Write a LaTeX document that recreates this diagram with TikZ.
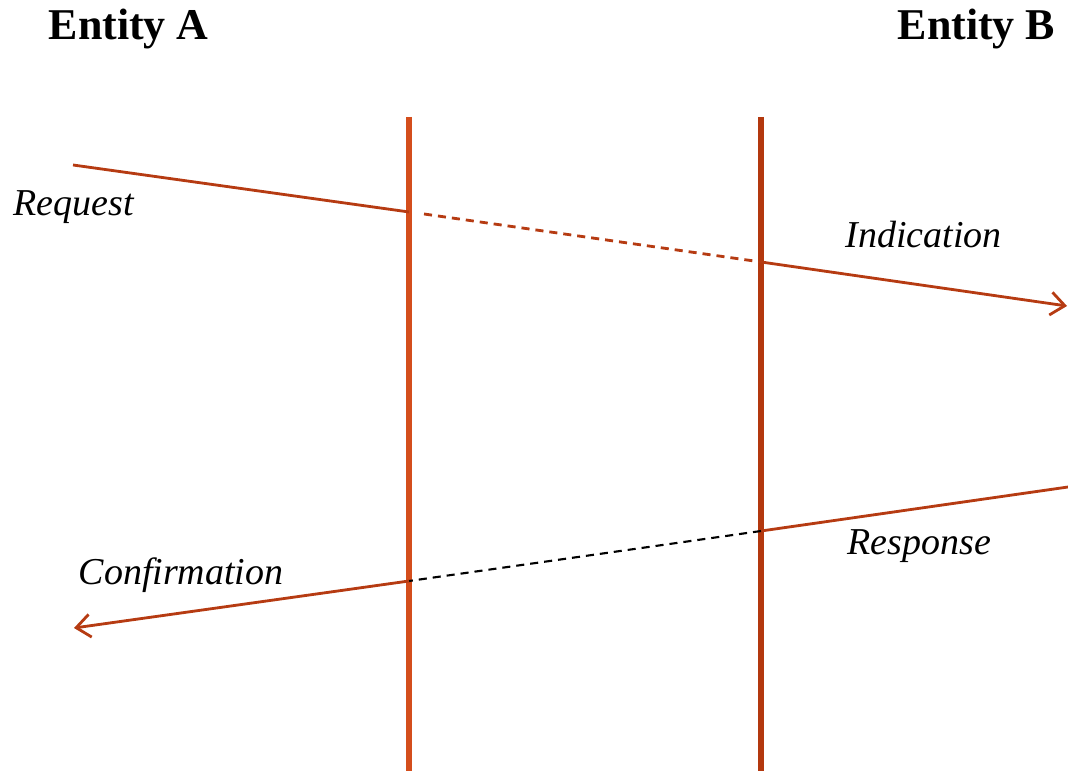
\documentclass[tikz,border=0pt]{standalone}
\usepackage{fontspec}
\setmainfont{Liberation Serif}
\usetikzlibrary{arrows.meta}
\definecolor{lifea}{HTML}{D44E1C}
\definecolor{lifeb}{HTML}{B3380E}
\definecolor{msg}{HTML}{B63B12}

\begin{document}
\begin{tikzpicture}[x=0.01cm,y=-0.01cm,>={Straight Barb[length=4pt,width=6.5pt]}]
\tikzstyle{every node}=[inner sep=0pt, anchor=base west]
\tikzstyle{entity}=[font=\fontsize{12.5}{15}\selectfont\bfseries]
\tikzstyle{prim}=[font=\fontsize{10.8}{13}\selectfont\itshape]
\tikzstyle{msgline}=[draw=msg, line width=0.8pt]
\useasboundingbox (0,0) rectangle (1068,771);
% headings
\draw (48,40) node (ea) [entity] {Entity A};
\draw (897,40) node (eb) [entity] {Entity B};
% the two boundaries
\draw (409,117) coordinate (at);
\draw (409,771) coordinate (ab);
\draw (761,117) coordinate (bt);
\draw (761,771) coordinate (bb);
\draw [lifea, line width=1.7pt] (at) -- (ab);
\draw [lifeb, line width=1.7pt] (bt) -- (bb);
% request / indication
\draw (73,165) coordinate (req0);
\draw (409,212) coordinate (req1);
\draw (424,214) coordinate (ind0);
\draw (761,262) coordinate (ind1);
\draw (1067,306) coordinate (ind2);
\draw [msgline] (req0) -- (req1);
\draw [msgline, dash pattern=on 2.3pt off 1.7pt] (ind0) -- (ind1);
\draw [msgline, ->] (ind1) -- (ind2);
% response / confirmation
\draw (1068,487) coordinate (rsp0);
\draw (761,531) coordinate (rsp1);
\draw (409,581) coordinate (cnf0);
\draw (74,628) coordinate (cnf1);
\draw [msgline] (rsp0) -- (rsp1);
\draw [black, line width=0.6pt, dash pattern=on 2.3pt off 1.7pt] (rsp1) -- (cnf0);
\draw [msgline, ->] (cnf0) -- (cnf1);
% primitives
\draw (13,216) node (lreq) [prim] {Request};
\draw (845,248) node (lind) [prim] {Indication};
\draw (847,555) node (lrsp) [prim] {Response};
\draw (78,585) node (lcnf) [prim] {Confirmation};
\end{tikzpicture}
\end{document}
